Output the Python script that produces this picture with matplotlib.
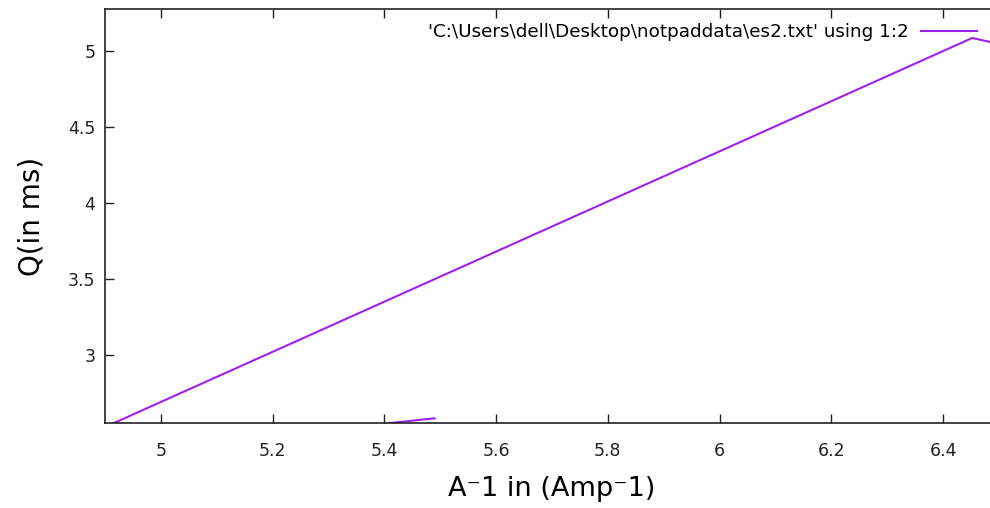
import numpy as np
import matplotlib.pyplot as plt

# data (es2.txt, columns 1:2)
inv_amp = [5.49, 5.35, 4.89, 6.452, 6.50]
q_ms = [2.581, 2.526, 2.507, 5.086, 5.047]

xticks = [5.0, 5.2, 5.4, 5.6, 5.8, 6.0, 6.2, 6.4]
xticklabels = ['5', '5.2', '5.4', '5.6', '5.8', '6', '6.2', '6.4']
yticks = [3.0, 3.5, 4.0, 4.5, 5.0]
yticklabels = ['3', '3.5', '4', '4.5', '5']

legend_label = "'C:\\Users\\dell\\Desktop\\notpaddata\\es2.txt' using 1:2"

fig = plt.figure(figsize=(9.9, 5.08), dpi=100)
# right border sits just past the image edge, like the original crop
ax = fig.add_axes([105/990, 1 - 423/508, 894/990, 413.7/508])

ax.plot(inv_amp, q_ms, color='#a020f0', lw=1.5, label=legend_label)

ax.set_xlim(4.9, 6.5)
ax.set_ylim(2.55, 5.275)
ax.set_xticks(xticks)
ax.set_xticklabels(xticklabels)
ax.set_yticks(yticks)
ax.set_yticklabels(yticklabels)

ax.tick_params(direction='in', length=6.5, width=1, top=True, right=True,
               labelsize=12.5, colors='#222222')
ax.tick_params(axis='x', pad=14)
ax.tick_params(axis='y', pad=7)
for s in ax.spines.values():
    s.set_linewidth(1.2)
    s.set_color('#222222')

ax.set_xlabel('A\u207b1 in (Amp\u207b1)', fontsize=19.5, labelpad=11)
ax.set_ylabel('Q(in ms)', fontsize=20, labelpad=16)

ax.legend(loc='center right', bbox_to_anchor=(977/990, 1 - 32/508),
          bbox_transform=fig.transFigure, frameon=False, markerfirst=False,
          fontsize=13.2, borderpad=0, borderaxespad=0, handlelength=3.05,
          handletextpad=0.7)

plt.savefig('out.png', dpi=100)
plt.close()
